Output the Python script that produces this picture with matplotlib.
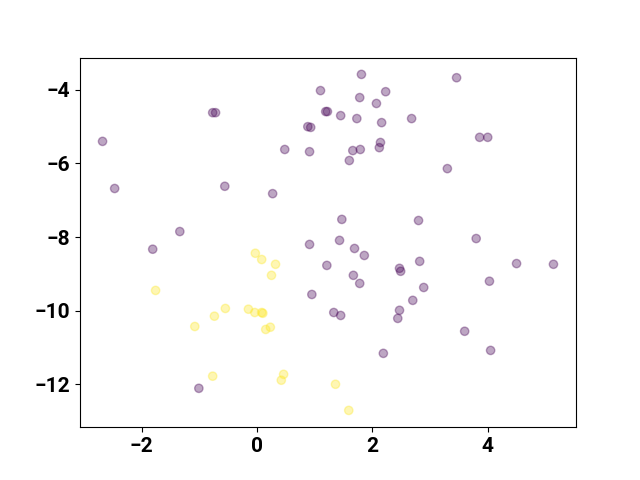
import matplotlib
matplotlib.use("Agg")
import matplotlib.pyplot as plt
import numpy as np

plt.rcParams['font.family'] = ['Roboto', 'DejaVu Sans']
plt.rcParams['font.weight'] = 'bold'
plt.rcParams['font.size'] = 15

# Cluster 0 (purple)
x0 = [-2.68, -2.47, -1.81, -1.34, -0.77, -0.72, -0.56, 0.27, 0.48, 0.88,
      0.93, 0.91, 1.10, 1.19, 1.22, 1.45, 1.60, 1.66, 1.73, 1.78,
      1.79, 1.81, 2.07, 2.14, 2.12, 2.16, 2.23, 2.68, 2.80, 3.30,
      3.46, 3.86, 4.00, 3.80,
      0.91, 1.43, 1.47, 1.69, 1.86, 1.21, 1.67, 1.78, 0.95, 1.33,
      1.45, 2.19, 2.47, 2.49, 2.82, 2.89, 2.70, 2.47, 2.44, 4.50,
      5.14, 4.03, 3.60, 4.05, -1.01]
y0 = [-5.40, -6.68, -8.33, -7.85, -4.62, -4.62, -6.62, -6.82, -5.62, -5.00,
      -5.02, -5.68, -4.02, -4.59, -4.59, -4.70, -5.92, -5.65, -4.78, -4.21,
      -5.62, -3.58, -4.37, -5.43, -5.57, -4.89, -4.05, -4.78, -7.55, -6.14,
      -3.67, -5.29, -5.29, -8.04,
      -8.20, -8.09, -7.52, -8.31, -8.50, -8.77, -9.04, -9.26, -9.56, -10.05,
      -10.13, -11.16, -8.85, -8.93, -8.66, -9.37, -9.72, -9.99, -10.21, -8.72,
      -8.74, -9.20, -10.56, -11.08, -12.11]

# Cluster 1 (yellow)
x1 = [-1.76, -0.55, -0.74, -1.08, -0.15, -0.77, -0.03, 0.08, 0.32, 0.25,
      -0.04, 0.08, 0.10, 0.23, 0.15, 0.46, 0.42, 1.36, 1.59]
y1 = [-9.45, -9.94, -10.15, -10.43, -9.96, -11.78, -8.44, -8.61, -8.74, -9.04,
      -10.05, -10.05, -10.07, -10.45, -10.51, -11.73, -11.89, -12.00, -12.71]

labels = [0] * len(x0) + [1] * len(x1)

x = np.array(x0 + x1)
y = np.array(y0 + y1)

fig, ax = plt.subplots(figsize=(6.4, 4.8), dpi=100)
ax.scatter(x, y, c=labels, cmap='viridis', alpha=0.35)
ax.set_yticks([-12, -10, -8, -6, -4])
ax.set_xticks([-2, 0, 2, 4])
fig.savefig('out.png', dpi=100)
